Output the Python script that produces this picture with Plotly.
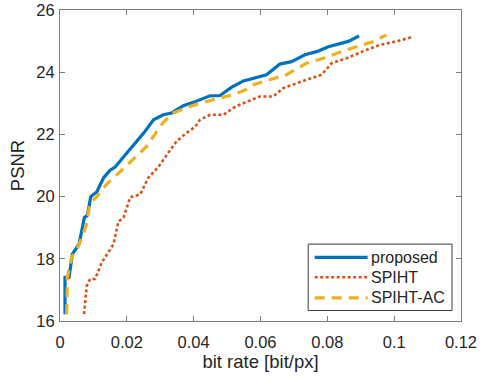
import plotly.graph_objects as go

# ---- data ----
proposed_rate = [0.0015, 0.0015, 0.0027, 0.0037, 0.0057, 0.0073, 0.0082, 0.0092, 0.011, 0.013,
                 0.015, 0.0165, 0.020, 0.0251, 0.028, 0.0297, 0.0309, 0.0334, 0.0369, 0.0399,
                 0.0449, 0.0479, 0.0514, 0.0549, 0.0618, 0.0658, 0.0693, 0.0733, 0.0768, 0.0803,
                 0.0833, 0.0863, 0.0895]
proposed_psnr = [16.22, 17.4, 17.4, 18.15, 18.47, 19.33, 19.4, 20.0, 20.15, 20.6,
                 20.85, 20.95, 21.4, 22.05, 22.47, 22.55, 22.63, 22.69, 22.92, 23.03,
                 23.24, 23.25, 23.52, 23.72, 23.92, 24.26, 24.34, 24.56, 24.66, 24.82,
                 24.91, 24.99, 25.17]

spiht_rate = [0.0072, 0.008, 0.009, 0.0105, 0.0125, 0.016, 0.0175, 0.019, 0.021, 0.024,
              0.0264, 0.0294, 0.0324, 0.0349, 0.0379, 0.0405, 0.0419, 0.0449, 0.0489, 0.0519,
              0.0539, 0.0578, 0.0598, 0.0638, 0.0668, 0.0738, 0.0783, 0.0813, 0.0858, 0.0918,
              0.0958, 0.1007, 0.1057]
spiht_psnr = [16.22, 17.13, 17.35, 17.35, 17.88, 18.47, 19.2, 19.32, 19.98, 20.07,
              20.6, 20.95, 21.41, 21.78, 22.05, 22.25, 22.47, 22.63, 22.63, 22.85,
              22.96, 23.12, 23.22, 23.22, 23.49, 23.76, 23.92, 24.29, 24.45, 24.72,
              24.88, 24.99, 25.14]

spihtac_rate = [0.002, 0.0022, 0.0035, 0.0055, 0.0078, 0.009, 0.011, 0.014, 0.017, 0.022,
                0.026, 0.029, 0.031, 0.0339, 0.0389, 0.0439, 0.0479, 0.0519, 0.0559, 0.0579,
                0.0628, 0.0678, 0.0738, 0.0788, 0.0858, 0.0908, 0.0938, 0.0977]
spihtac_psnr = [16.22, 17.4, 18.05, 18.4, 19.05, 19.8, 20.0, 20.4, 20.7, 21.2,
                21.62, 22.1, 22.4, 22.69, 22.9, 23.06, 23.17, 23.28, 23.45, 23.6,
                23.76, 23.92, 24.29, 24.45, 24.72, 24.9, 24.99, 25.2]

series_names = ["proposed", "SPIHT", "SPIHT-AC"]
x_ticks = [0, 0.02, 0.04, 0.06, 0.08, 0.1, 0.12]
x_tick_labels = ["0", "0.02", "0.04", "0.06", "0.08", "0.1", "0.12"]
y_ticks = [16, 18, 20, 22, 24, 26]

# ---- style ----
BLUE, RED, YEL = "#0072BD", "#D95319", "#EDB120"
DOT, DASH = "3px,2.5px", "10px,7px"
TXT = "#262626"
AX = "#7d7d7d"
FONT = "Liberation Sans, Arial, sans-serif"

W, H = 482, 379
L, R, T, B = 60, 20.5, 10, 57.5
pw, ph = W - L - R, H - T - B


def px(x):  # window pixel -> paper fraction
    return (x - L) / pw


def py(y):
    return (H - B - y) / ph


fig = go.Figure()
fig.add_trace(go.Scatter(x=proposed_rate, y=proposed_psnr, mode="lines", name=series_names[0],
                         line=dict(color=BLUE, width=3.2)))
fig.add_trace(go.Scatter(x=spiht_rate, y=spiht_psnr, mode="lines", name=series_names[1],
                         line=dict(color=RED, width=2.6, dash=DOT)))
fig.add_trace(go.Scatter(x=spihtac_rate, y=spihtac_psnr, mode="lines", name=series_names[2],
                         line=dict(color=YEL, width=3.2, dash=DASH)))

axis_common = dict(showline=True, linecolor=AX, linewidth=1, mirror="ticks", ticks="inside",
                   ticklen=5, tickcolor=AX, tickwidth=1, showgrid=False, zeroline=False,
                   automargin=False, ticklabeloverflow="allow",
                   tickfont=dict(family=FONT, size=16.5, color=TXT))

fig.update_xaxes(range=[0, 0.12], tickvals=x_ticks, ticktext=x_tick_labels,
                 ticklabelstandoff=6,
                 title=dict(text="bit rate [bit/px]", font=dict(family=FONT, size=18.5, color=TXT),
                            standoff=4),
                 **axis_common)
fig.update_yaxes(range=[16, 26], tickvals=y_ticks, ticklabelstandoff=1,
                 title=dict(text="PSNR", font=dict(family=FONT, size=18.5, color=TXT), standoff=6),
                 **axis_common)

# legend box (MATLAB-style)
shapes = [dict(type="rect", xref="paper", yref="paper", x0=px(308.5), x1=px(452.5),
               y0=py(311), y1=py(244.5), line=dict(color="#3a3a3a", width=1), fillcolor="white")]
annotations = []
legend_rows = [(257.7, BLUE, None, 3.2), (277.7, RED, DOT, 2.6), (298.3, YEL, DASH, 3.2)]
for name, (yy, col, dash, w) in zip(series_names, legend_rows):
    ln = dict(color=col, width=w)
    if dash:
        ln["dash"] = dash
    shapes.append(dict(type="line", xref="paper", yref="paper", x0=px(315), x1=px(368),
                       y0=py(yy), y1=py(yy), line=ln))
    annotations.append(dict(xref="paper", yref="paper", x=px(369), y=py(yy), text=name,
                            showarrow=False, xanchor="left", yanchor="middle",
                            font=dict(family=FONT, size=16, color=TXT)))

fig.update_layout(width=W, height=H, margin=dict(l=L, r=R, t=T, b=B),
                  plot_bgcolor="white", paper_bgcolor="white", showlegend=False,
                  hovermode=False, shapes=shapes, annotations=annotations)

# remove the browser's default 8px body margin so the figure sits at the window origin
fig.write_html("out.html", config={"displayModeBar": False, "staticPlot": True},
               post_script="document.body.style.margin='0';document.body.style.overflow='hidden';")
